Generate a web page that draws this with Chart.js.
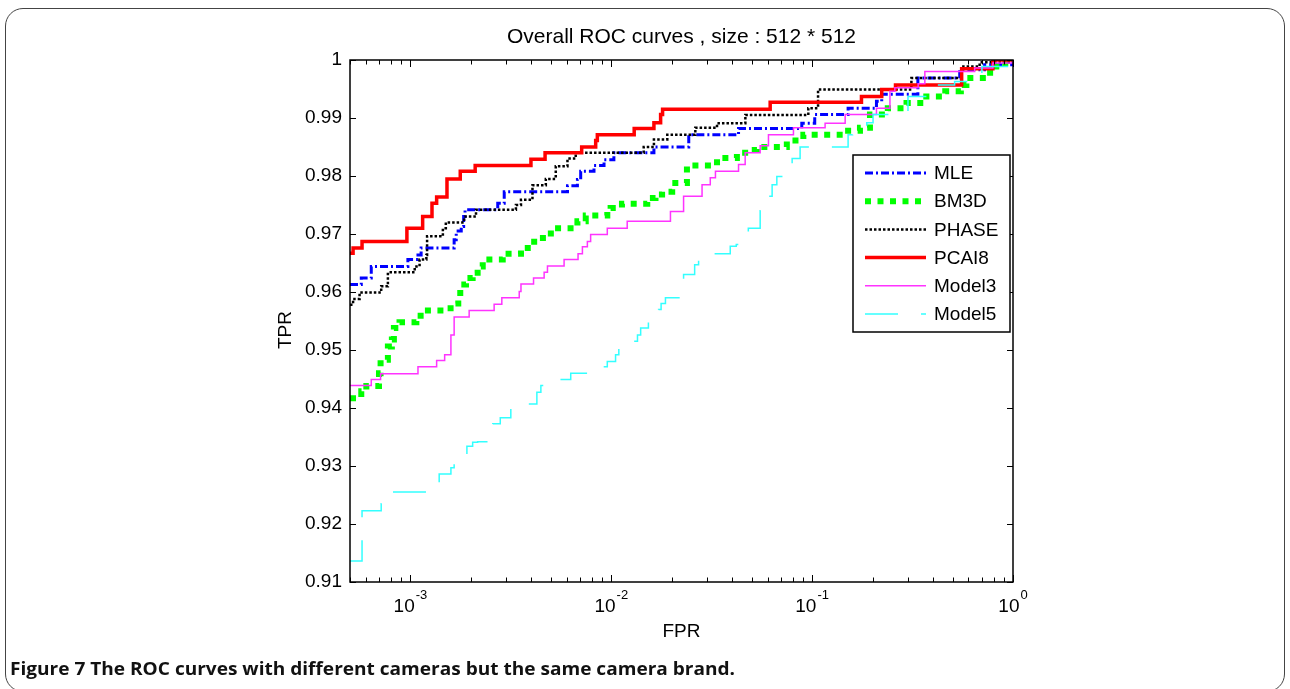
<!DOCTYPE html>
<html>
<head>
<meta charset="utf-8">
<script src="https://cdn.jsdelivr.net/npm/chart.js@4.4.1/dist/chart.umd.min.js"></script>
<style>
  html, body { margin: 0; padding: 0; background: #fff; }
  #wrap { position: relative; width: 1290px; height: 689px; overflow: hidden; }
  #frame { position: absolute; left: 5px; top: 8px; width: 1280px; height: 684px; border: 1.5px solid #444; border-radius: 18px; box-sizing: border-box; }
  #chart { position: absolute; left: 0; top: 0; }
  #caption { position: absolute; left: 10px; top: 656px; font: bold 18px "Open Sans", "Noto Sans", sans-serif; white-space: nowrap; transform-origin: 0 0; color: #111; }
</style>
</head>
<body>
<div id="wrap">
  <div id="frame"></div>
  <canvas id="chart" width="1290" height="689"></canvas>
  <div id="caption">Figure 7 The ROC curves with different cameras but the same camera brand.</div>
</div>
<script>
// data (FPR on a log axis, TPR linear)
const seriesNames = ['MLE', 'BM3D', 'PHASE', 'PCAI8', 'Model3', 'Model5'];

const mleFpr = [0.0005, 0.000569, 0.000638, 0.000971, 0.00109, 0.00113, 0.00165, 0.00169, 0.00179, 0.00184, 0.00187, 0.00272, 0.00293, 0.00605, 0.00678, 0.00704, 0.0082, 0.0092, 0.0103, 0.0163, 0.0243, 0.043, 0.0888, 0.103, 0.151, 0.209, 0.222, 0.336, 0.543, 0.722, 1];
const mleTpr = [0.9613, 0.9624, 0.9644, 0.9656, 0.9664, 0.9676, 0.9690, 0.9705, 0.9713, 0.9730, 0.9742, 0.9753, 0.9773, 0.9783, 0.9794, 0.9808, 0.9818, 0.9828, 0.9840, 0.9850, 0.9871, 0.9882, 0.9891, 0.9906, 0.9917, 0.9929, 0.9941, 0.9969, 0.9983, 0.9992, 1];

const bm3dFpr = [0.0005, 0.000569, 0.000603, 0.000697, 0.00071, 0.000772, 0.000808, 0.000827, 0.000882, 0.00107, 0.00117, 0.0015, 0.00165, 0.00173, 0.00177, 0.00189, 0.00204, 0.00216, 0.00229, 0.00288, 0.00355, 0.00413, 0.005, 0.00678, 0.00746, 0.00955, 0.00992, 0.0113, 0.0151, 0.0166, 0.0179, 0.0201, 0.0238, 0.0336, 0.0422, 0.0482, 0.0531, 0.0748, 0.0904, 0.151, 0.173, 0.194, 0.238, 0.295, 0.37, 0.46, 0.55, 0.586, 0.736, 0.826, 1];
const bm3dTpr = [0.9417, 0.9429, 0.9438, 0.9460, 0.9483, 0.9506, 0.9518, 0.9538, 0.9548, 0.9559, 0.9568, 0.9572, 0.9580, 0.9592, 0.9613, 0.9624, 0.9633, 0.9644, 0.9656, 0.9666, 0.9676, 0.9693, 0.9710, 0.9722, 0.9732, 0.9739, 0.9745, 0.9752, 0.9762, 0.9768, 0.9773, 0.9788, 0.9818, 0.9831, 0.9840, 0.9845, 0.9850, 0.9861, 0.9871, 0.9878, 0.9883, 0.9906, 0.9917, 0.9926, 0.9937, 0.9946, 0.9957, 0.9969, 0.9978, 0.9995, 1];

const phaseFpr = [0.0005, 0.000518, 0.000558, 0.000715, 0.000772, 0.00105, 0.00111, 0.0012, 0.00121, 0.00145, 0.0015, 0.00185, 0.00212, 0.00335, 0.00355, 0.00405, 0.00472, 0.00529, 0.00605, 0.00665, 0.0145, 0.0163, 0.019, 0.0262, 0.0336, 0.0465, 0.0957, 0.107, 0.312, 0.555, 0.682, 1];
const phaseTpr = [0.9578, 0.9588, 0.9599, 0.9610, 0.9634, 0.9644, 0.9656, 0.9664, 0.9696, 0.9710, 0.9720, 0.9730, 0.9742, 0.9750, 0.9759, 0.9784, 0.9795, 0.9817, 0.9830, 0.9840, 0.9850, 0.9863, 0.9871, 0.9883, 0.9891, 0.9905, 0.9917, 0.9949, 0.9969, 0.9989, 0.9996, 1];

const pcaiFpr = [0.0005, 0.000518, 0.000574, 0.00096, 0.00115, 0.00128, 0.00135, 0.00152, 0.00177, 0.0021, 0.00398, 0.00468, 0.00712, 0.00836, 0.00852, 0.013, 0.0163, 0.0176, 0.018, 0.0618, 0.176, 0.222, 0.26, 0.555, 0.794, 1];
const pcaiTpr = [0.9667, 0.9676, 0.9687, 0.9710, 0.9730, 0.9753, 0.9764, 0.9795, 0.9808, 0.9818, 0.9829, 0.9840, 0.9850, 0.9861, 0.9871, 0.9882, 0.9892, 0.9906, 0.9915, 0.9927, 0.9937, 0.9949, 0.9957, 0.9985, 1, 1];

const model3Fpr = [0.0005, 0.000638, 0.00071, 0.00109, 0.00135, 0.00148, 0.00159, 0.00165, 0.00196, 0.00261, 0.00285, 0.00348, 0.00355, 0.0041, 0.00463, 0.00481, 0.00582, 0.00683, 0.00718, 0.0076, 0.00789, 0.00955, 0.012, 0.0197, 0.0229, 0.0283, 0.0311, 0.033, 0.043, 0.0464, 0.0551, 0.0606, 0.0807, 0.116, 0.146, 0.209, 0.244, 0.258, 0.337, 0.364, 0.644, 0.794, 1];
const model3Tpr = [0.9439, 0.9449, 0.9459, 0.9471, 0.9482, 0.9492, 0.9526, 0.9557, 0.9568, 0.9579, 0.9590, 0.9601, 0.9614, 0.9624, 0.9634, 0.9645, 0.9656, 0.9666, 0.9678, 0.9687, 0.9699, 0.9710, 0.9722, 0.9739, 0.9765, 0.9785, 0.9797, 0.9808, 0.9820, 0.9840, 0.9852, 0.9871, 0.9883, 0.9891, 0.9906, 0.9917, 0.9946, 0.9952, 0.9959, 0.9980, 0.9986, 0.9995, 1];

const model5Fpr = [0.0005, 0.000574, 0.000715, 0.000818, 0.00134, 0.00139, 0.00159, 0.00165, 0.00191, 0.00204, 0.00216, 0.00244, 0.00257, 0.0028, 0.00316, 0.00426, 0.00446, 0.00556, 0.00628, 0.00916, 0.00955, 0.0105, 0.0109, 0.0135, 0.014, 0.0153, 0.0172, 0.0177, 0.0186, 0.0229, 0.026, 0.0272, 0.0288, 0.0391, 0.0419, 0.0481, 0.0551, 0.0595, 0.0632, 0.0667, 0.0733, 0.0795, 0.0871, 0.151, 0.159, 0.187, 0.201, 0.3, 0.389, 0.512, 0.7, 1];
const model5Tpr = [0.9136, 0.9223, 0.9235, 0.9255, 0.9258, 0.9286, 0.9297, 0.9310, 0.9334, 0.9341, 0.9342, 0.9361, 0.9373, 0.9383, 0.9407, 0.9427, 0.9439, 0.9449, 0.9460, 0.9471, 0.9480, 0.9492, 0.9515, 0.9526, 0.9538, 0.9558, 0.9570, 0.9580, 0.9590, 0.9630, 0.9647, 0.9656, 0.9666, 0.9679, 0.9682, 0.9710, 0.9740, 0.9765, 0.9785, 0.9799, 0.9815, 0.9830, 0.9850, 0.9871, 0.9879, 0.9892, 0.9906, 0.9937, 0.9957, 0.9963, 0.9989, 1];

const yTicks = [0.91, 0.92, 0.93, 0.94, 0.95, 0.96, 0.97, 0.98, 0.99, 1];
const xTickExps = [-3, -2, -1, 0];

const FONT = '"Liberation Sans", Arial, sans-serif';
Chart.defaults.font.family = FONT;
Chart.defaults.color = '#000';

const toPoints = (xs, ys) => xs.map((v, i) => ({ x: v, y: ys[i] }));

const styles = [
  { color: '#0000ff', width: 3,   dash: [8, 3, 2, 3] },
  { color: '#00ff00', width: 6,   dash: [6, 6.5] },
  { color: '#000000', width: 2.5, dash: [2.5, 2] },
  { color: '#ff0000', width: 3.5, dash: [] },
  { color: '#ff33ff', width: 1.5, dash: [] },
  { color: '#33ffff', width: 1.5, dash: [33, 23] },
];
const allData = [
  toPoints(mleFpr, mleTpr),
  toPoints(bm3dFpr, bm3dTpr),
  toPoints(phaseFpr, phaseTpr),
  toPoints(pcaiFpr, pcaiTpr),
  toPoints(model3Fpr, model3Tpr),
  toPoints(model5Fpr, model5Tpr),
];

// matlab-style box, inward ticks, labels and legend
const matlabAxes = {
  id: 'matlabAxes',
  afterDatasetsDraw(chart) {
    const { ctx, chartArea: a, scales: { x, y } } = chart;
    ctx.save();
    ctx.strokeStyle = '#000';
    ctx.lineWidth = 1;
    ctx.beginPath();
    yTicks.forEach(v => {
      const py = Math.round(y.getPixelForValue(v)) + 0.5;
      ctx.moveTo(a.left, py); ctx.lineTo(a.left + 6, py);
      ctx.moveTo(a.right, py); ctx.lineTo(a.right - 6, py);
    });
    for (let e = -4; e <= 0; e++) {
      for (let m = 1; m <= 9; m++) {
        const v = m * Math.pow(10, e);
        if (v < x.min || v > x.max) continue;
        const px = Math.round(x.getPixelForValue(v)) + 0.5;
        const len = m === 1 ? 7 : 4.5;
        ctx.moveTo(px, a.bottom); ctx.lineTo(px, a.bottom - len);
        ctx.moveTo(px, a.top); ctx.lineTo(px, a.top + len);
      }
    }
    ctx.stroke();
    ctx.lineWidth = 1.5;
    ctx.strokeRect(a.left, a.top, a.right - a.left, a.bottom - a.top);
    ctx.restore();
  },
  afterDraw(chart) {
    const { ctx, chartArea: a, scales: { x } } = chart;
    const midX = (a.left + a.right) / 2;
    ctx.save();
    ctx.fillStyle = '#000';
    ctx.textAlign = 'center';
    ctx.textBaseline = 'middle';
    ctx.font = '21px ' + FONT;
    ctx.fillText('Overall ROC curves , size : 512 * 512', midX, a.top - 23);
    ctx.font = '19px ' + FONT;
    ctx.fillText('FPR', midX, a.bottom + 50);
    ctx.save();
    ctx.translate(a.left - 64, (a.top + a.bottom) / 2 + 9);
    ctx.rotate(-Math.PI / 2);
    ctx.fillText('TPR', 0, 0);
    ctx.restore();

    // x tick labels as 10 with a raised exponent
    ctx.textAlign = 'left';
    ctx.textBaseline = 'alphabetic';
    xTickExps.forEach(e => {
      const px = x.getPixelForValue(Math.pow(10, e));
      ctx.font = '19px ' + FONT;
      const wb = ctx.measureText('10').width;
      ctx.font = '13px ' + FONT;
      const sup = String(e);
      const ws = ctx.measureText(sup).width;
      const left = px - (wb + ws + 1) / 2;
      ctx.font = '19px ' + FONT;
      ctx.fillText('10', left, a.bottom + 30);
      ctx.font = '13px ' + FONT;
      ctx.fillText(sup, left + wb + 1, a.bottom + 17);
    });

    // legend box
    const bl = a.right - 160, bt = a.top + 95, bw = 157, bh = 177;
    ctx.fillStyle = '#fff';
    ctx.fillRect(bl, bt, bw, bh);
    ctx.strokeStyle = '#000';
    ctx.lineWidth = 1.5;
    ctx.strokeRect(bl, bt, bw, bh);
    ctx.font = '19px ' + FONT;
    ctx.textBaseline = 'middle';
    chart.data.datasets.forEach((ds, i) => {
      const ry = bt + 18 + i * 28.2;
      ctx.save();
      ctx.strokeStyle = ds.borderColor;
      ctx.lineWidth = ds.borderWidth;
      ctx.setLineDash(ds.borderDash);
      ctx.lineCap = 'butt';
      ctx.beginPath();
      ctx.moveTo(bl + 12, ry);
      ctx.lineTo(bl + 73, ry);
      ctx.stroke();
      ctx.restore();
      ctx.fillStyle = '#000';
      ctx.fillText(ds.label, bl + 81, ry + 1);
    });
    ctx.restore();
  }
};

new Chart(document.getElementById('chart'), {
  type: 'line',
  data: {
    datasets: seriesNames.map((name, i) => ({
      label: name,
      data: allData[i],
      borderColor: styles[i].color,
      borderWidth: styles[i].width,
      borderDash: styles[i].dash,
      borderCapStyle: 'butt',
      stepped: 'before',
      pointRadius: 0,
      fill: false,
      order: seriesNames.length - i,
    }))
  },
  options: {
    responsive: false,
    animation: false,
    devicePixelRatio: 1,
    layout: { padding: { left: 0, top: 60, right: 277, bottom: 107 } },
    plugins: { legend: { display: false }, title: { display: false }, tooltip: { enabled: false } },
    scales: {
      x: {
        type: 'logarithmic',
        min: 0.0005,
        max: 1,
        ticks: { display: false },
        grid: { display: false },
        border: { display: false },
        afterFit: s => { s.height = 0; }
      },
      y: {
        min: 0.91,
        max: 1,
        afterBuildTicks: s => { s.ticks = yTicks.map(v => ({ value: v })); },
        afterFit: s => { s.width = 350; },
        grid: { display: false, drawTicks: false },
        border: { display: false },
        ticks: {
          padding: 8,
          color: '#000',
          font: { size: 19 },
          callback: v => String(+v.toFixed(2))
        }
      }
    }
  },
  plugins: [matlabAxes]
});

// squeeze the caption to the width it has in the figure
const cap = document.getElementById('caption');
const cw = cap.getBoundingClientRect().width;
cap.style.transform = 'scaleX(' + (725 / cw) + ')';
</script>
</body>
</html>
